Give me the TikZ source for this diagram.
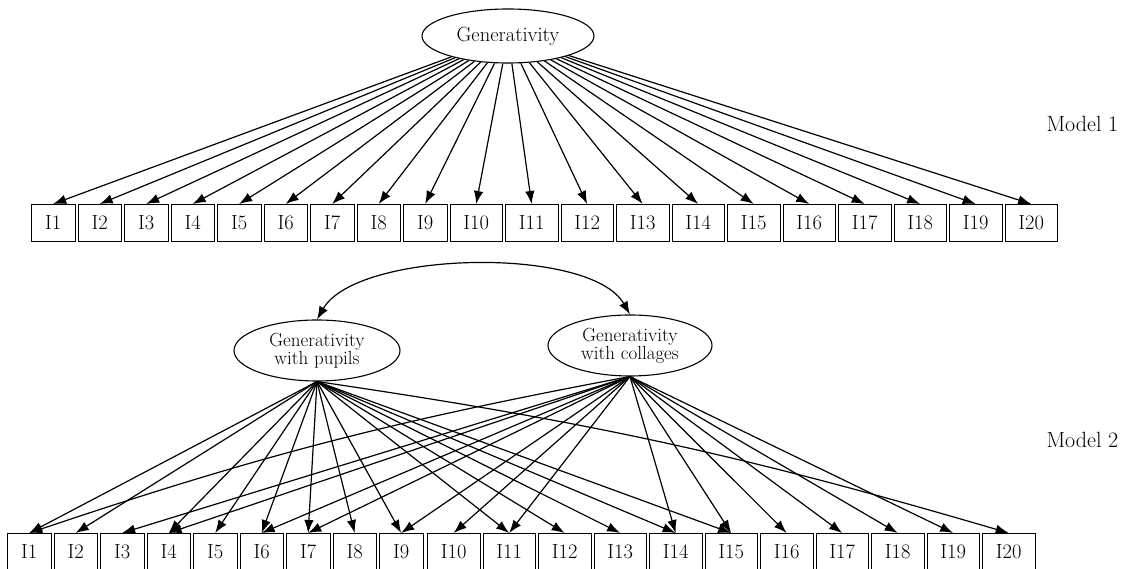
\documentclass[tikz,border=0pt]{standalone}
\usepackage{tikz}
\usetikzlibrary{shapes.geometric,arrows.meta}

\tikzset{
  item/.style={draw,line width=0.8pt,minimum height=37,inner sep=0,anchor=north west,font=\fontsize{20.5}{20}\selectfont},
  latent/.style={draw,ellipse,line width=1.1pt,inner sep=0,align=center},
  load/.style={-{Latex[length=13pt,width=9.5pt]},line width=1.2pt},
}

\begin{document}
\begin{tikzpicture}[x=1pt,y=1pt]
  \useasboundingbox (0,0) rectangle (1132,569);

  % Model 1
  \node[latent,minimum width=172,minimum height=54,font=\fontsize{20.5}{20}\selectfont] (gen) at (508,533) {Generativity};
  \foreach \i in {1,...,20}{
    \pgfmathsetmacro{\xl}{\i<10 ? 31+(\i-1)*46.5 : 449.5+(\i-10)*55.5}
    \pgfmathsetmacro{\bw}{\i<10 ? 43.5 : 52.5}
    \node[item,minimum width=\bw] (a\i) at (\xl,365) {I\i};
    \draw[load] (gen) -- (a\i.north);
  }
  \node[anchor=west,font=\fontsize{22}{22}\selectfont] (m1) at (1043,445) {Model 1};

  % Model 2
  \node[latent,minimum width=166,minimum height=61,font=\fontsize{19}{18}\selectfont] (pup) at (317,218.5) {Generativity\\with pupils};
  \node[latent,minimum width=164,minimum height=61,font=\fontsize{19}{18}\selectfont] (col) at (630,223.5) {Generativity\\with collages};
  \draw[{Latex[length=13pt,width=9.5pt]}-{Latex[length=13pt,width=9.5pt]},line width=1.2pt]
    (pup.north) to[out=60,in=120,looseness=0.65] (col.north);
  \foreach \i in {1,...,20}{
    \pgfmathsetmacro{\xl}{\i<10 ? 7+(\i-1)*46.5 : 427+(\i-10)*55.5}
    \pgfmathsetmacro{\bw}{\i<10 ? 43.5 : 52.5}
    \node[item,minimum width=\bw] (b\i) at (\xl,36) {I\i};
  }
  \foreach \i in {1,2,4,5,6,7,8,9,11,12,13,14,15}
    \draw[load] (pup.south) -- (b\i.north);
  \draw[load] (pup.south) to[bend left=4] (b20.north);
  \foreach \i in {3,4,6,7,9,10,11,14,15,16,17,18,19}
    \draw[load] (col.south) -- (b\i.north);
  \draw[load] (col.south) to[bend right=4] (b1.north);
  \node[anchor=west,font=\fontsize{22}{22}\selectfont] (m2) at (1043,129) {Model 2};
\end{tikzpicture}
\end{document}
